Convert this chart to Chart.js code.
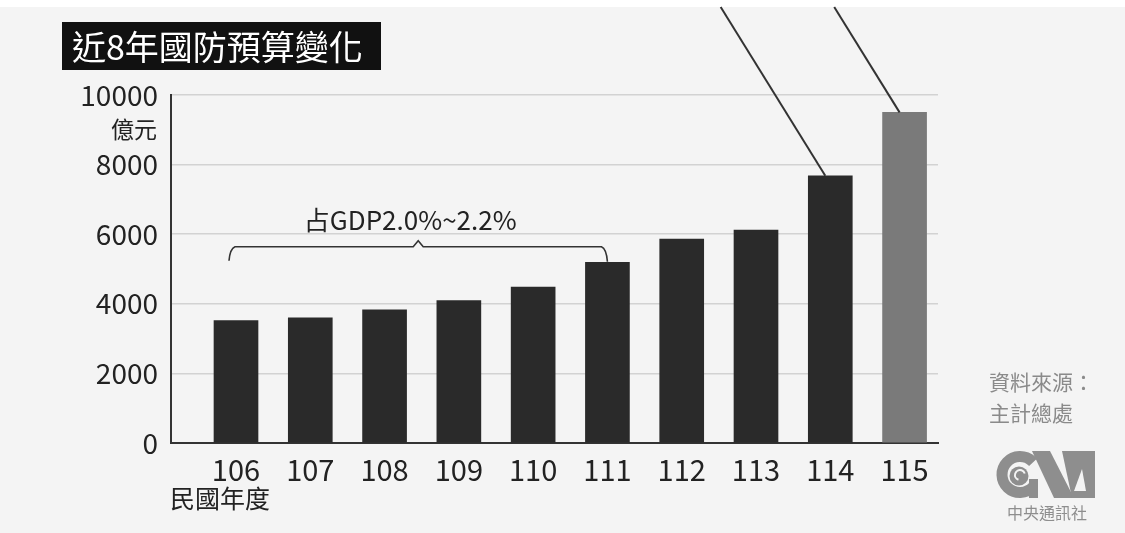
<!DOCTYPE html>
<html>
<head>
<meta charset="utf-8">
<script src="https://cdn.jsdelivr.net/npm/chart.js@4"></script>
<style>
  html, body { margin: 0; padding: 0; background: #f4f4f4; }
  #wrap { width: 1125px; height: 533px; position: relative; }
</style>
</head>
<body>
<div id="wrap"><canvas id="c" width="1125" height="533"></canvas></div>
<script>
// ---- data ----
const years = [106, 107, 108, 109, 110, 111, 112, 113, 114, 115];
const budgets = [3520, 3600, 3830, 4090, 4480, 5190, 5860, 6120, 7680, 9500];
const barColors = ['#2a2a2a','#2a2a2a','#2a2a2a','#2a2a2a','#2a2a2a','#2a2a2a','#2a2a2a','#2a2a2a','#2a2a2a','#7a7a7a'];
const yTicks = [0, 2000, 4000, 6000, 8000, 10000];
const title = '近8年國防預算變化';
const yUnit = '億元';
const xUnit = '民國年度';
const bracketText = '占GDP2.0%~2.2%';
const bracketFrom = 106, bracketTo = 111, bracketLevel = 5640, bracketTextLevel = 6410;
const pointerYears = [114, 115];
const sourceLines = ['資料來源：', '主計總處'];
const logoText = '中央通訊社';

const FONT = "'Noto Sans CJK TC', 'Noto Sans', sans-serif";
const BG = '#f4f4f4';

const decor = {
  id: 'decor',
  beforeDraw(chart) {
    const ctx = chart.ctx;
    ctx.save();
    ctx.fillStyle = BG;
    ctx.fillRect(0, 0, chart.width, chart.height);
    ctx.fillStyle = '#ffffff';
    ctx.fillRect(0, 0, chart.width, 7);
    ctx.restore();
  },
  afterDraw(chart) {
    const ctx = chart.ctx;
    const xs = chart.scales.x, ys = chart.scales.y;
    ctx.save();
    // title box
    ctx.fillStyle = '#111111';
    ctx.fillRect(62, 22, 319, 48);
    ctx.fillStyle = '#ffffff';
    ctx.font = '34px ' + FONT;
    ctx.textBaseline = 'middle';
    ctx.textAlign = 'left';
    ctx.fillText(title, 72, 47);

    // unit under top tick
    ctx.fillStyle = '#222';
    ctx.font = '23px ' + FONT;
    ctx.textAlign = 'right';
    ctx.fillText(yUnit, 157, 129);

    // x unit
    ctx.textAlign = 'left';
    ctx.font = '25px ' + FONT;
    ctx.fillText(xUnit, 170, 498);

    // bracket
    const bx0 = xs.getPixelForValue(bracketFrom) - 7;
    const bx1 = xs.getPixelForValue(bracketTo);
    const by = ys.getPixelForValue(bracketLevel);
    const mid = (bx0 + bx1) / 2;
    ctx.strokeStyle = '#333';
    ctx.lineWidth = 1.6;
    ctx.beginPath();
    ctx.moveTo(bx0, by + 14);
    ctx.quadraticCurveTo(bx0 + 1, by + 2, bx0 + 6, by);
    ctx.lineTo(mid - 5, by);
    ctx.lineTo(mid, by - 6);
    ctx.lineTo(mid + 5, by);
    ctx.lineTo(bx1 - 6, by);
    ctx.quadraticCurveTo(bx1 - 1, by + 2, bx1, by + 15);
    ctx.stroke();
    ctx.fillStyle = '#222';
    ctx.font = '26px ' + FONT;
    ctx.textAlign = 'center';
    ctx.fillText(bracketText, mid - 8, ys.getPixelForValue(bracketTextLevel));

    // pointer lines from top to bars 114, 115
    const meta = chart.getDatasetMeta(0);
    ctx.strokeStyle = '#333';
    ctx.lineWidth = 2;
    pointerYears.forEach((yr) => {
      const i = years.indexOf(yr);
      const bar = meta.data[i];
      const ex = bar.x - 5, ey = bar.y;
      const sx = ex - (ey - 7) * 0.62;
      ctx.beginPath();
      ctx.moveTo(sx, 7);
      ctx.lineTo(ex, ey);
      ctx.stroke();
    });

    // source
    ctx.fillStyle = '#8a8a8a';
    ctx.font = '21px ' + FONT;
    ctx.textAlign = 'left';
    ctx.fillText(sourceLines[0], 989, 382);
    ctx.fillText(sourceLines[1], 989, 413);

    // logo (CNA)
    const g = '#8e8e8e';
    ctx.fillStyle = g;
    ctx.strokeStyle = g;
    // C ring
    ctx.lineWidth = 11;
    ctx.beginPath();
    ctx.arc(1020, 474.5, 18, Math.PI * 0.24, Math.PI * 1.76);
    ctx.stroke();
    // globe
    ctx.beginPath();
    ctx.arc(1019, 476, 9.5, 0, Math.PI * 2);
    ctx.fill();
    ctx.strokeStyle = BG;
    ctx.lineWidth = 2;
    ctx.beginPath();
    ctx.arc(1020, 475, 5, Math.PI * 0.6, Math.PI * 1.9);
    ctx.stroke();
    // N
    ctx.fillStyle = g;
    ctx.beginPath();
    ctx.moveTo(1032, 451); ctx.lineTo(1050, 451); ctx.lineTo(1074, 498); ctx.lineTo(1054, 498); ctx.closePath();
    ctx.fill();
    ctx.fillRect(1029, 479, 9, 19);
    // A
    ctx.beginPath();
    ctx.moveTo(1062, 451); ctx.lineTo(1095, 451); ctx.lineTo(1095, 498); ctx.lineTo(1072, 498); ctx.closePath();
    ctx.fill();
    ctx.fillStyle = BG;
    ctx.beginPath();
    ctx.moveTo(1082, 469); ctx.lineTo(1086, 491); ctx.lineTo(1074, 491); ctx.closePath();
    ctx.fill();
    ctx.fillStyle = g;
    ctx.font = '16px ' + FONT;
    ctx.textAlign = 'center';
    ctx.fillText(logoText, 1047, 513);
    ctx.restore();
  }
};

new Chart(document.getElementById('c'), {
  type: 'bar',
  data: {
    datasets: [{
      data: years.map((y, i) => ({ x: y, y: budgets[i] })),
      backgroundColor: barColors,
      borderWidth: 0,
      barThickness: 44
    }]
  },
  options: {
    responsive: false,
    animation: false,
    devicePixelRatio: 1,
    layout: { padding: { left: 0, top: 95, right: 187, bottom: 0 } },
    plugins: { legend: { display: false }, tooltip: { enabled: false } },
    scales: {
      x: {
        type: 'linear',
        offset: false,
        min: 105.125,
        max: 115.45,
        grid: { display: false, offset: false },
        border: { display: true, color: '#333', width: 2 },
        afterBuildTicks: (axis) => { axis.ticks = years.map(v => ({ value: v })); },
        afterFit: (s) => { s.height = 90; },
        ticks: {
          autoSkip: false, maxRotation: 0, padding: 2,
          color: '#222', font: { family: FONT, size: 29 },
          callback: (v) => String(v)
        }
      },
      y: {
        min: 0, max: 10000,
        afterFit: (s) => { s.width = 171; },
        grid: { color: '#d2d2d2', lineWidth: 1.5, drawTicks: false },
        border: { display: true, color: '#333', width: 2 },
        ticks: {
          stepSize: 1000, padding: 13,
          color: '#222', font: { family: FONT, size: 28 },
          callback: (v) => yTicks.includes(v) ? String(v) : ''
        }
      }
    }
  },
  plugins: [decor]
});
</script>
</body>
</html>
